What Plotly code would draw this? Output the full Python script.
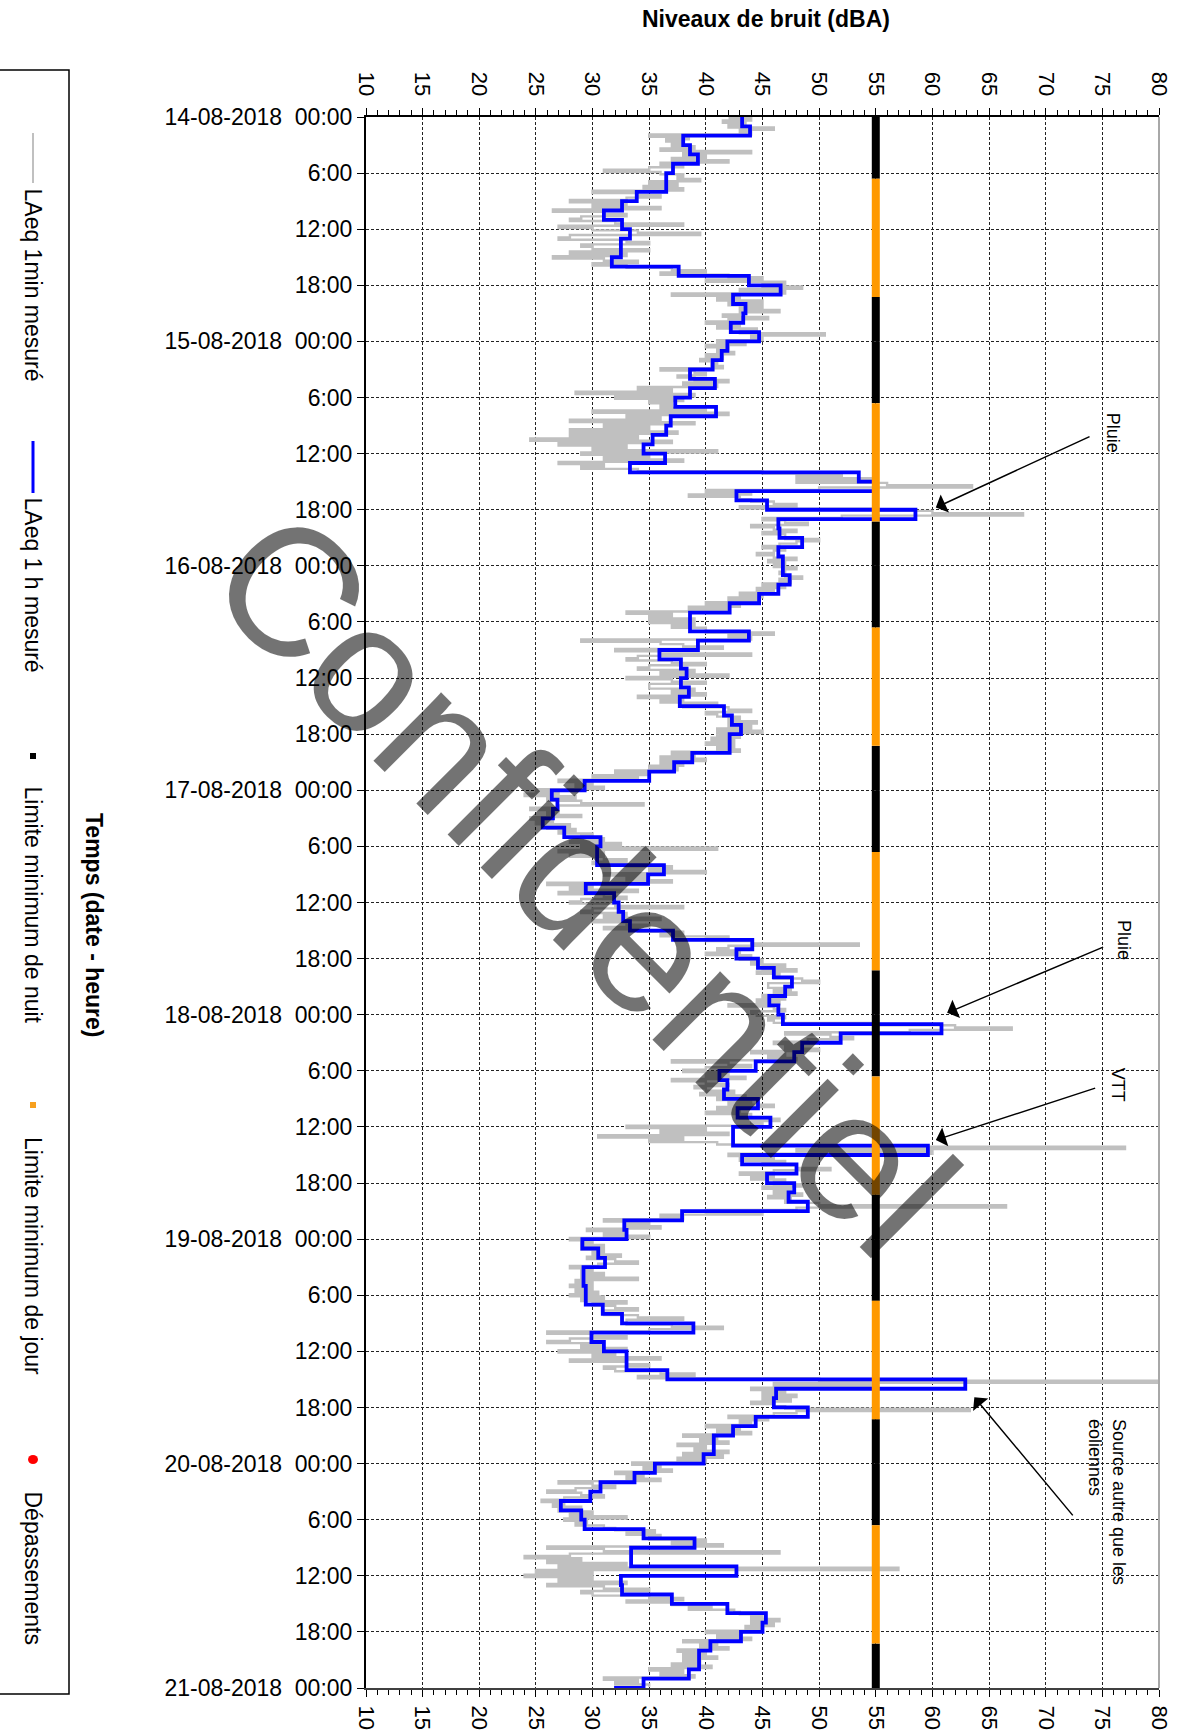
import numpy as np
import pandas as pd
import plotly.graph_objects as go

# ---------------- data ----------------
START = "2018-08-14 00:00"

# LAeq 1 h (dBA), one value per hour, per day
LAEQ_1H_14 = [43.2, 43.9, 38.0, 38.6, 39.3, 37.1, 36.5, 36.5, 33.9, 32.6, 31.0, 32.6,
              33.3, 32.5, 32.5, 31.7, 37.6, 43.8, 46.6, 42.4, 43.5, 43.3, 42.2, 44.7]
LAEQ_1H_15 = [41.9, 41.4, 40.6, 38.6, 40.8, 38.6, 37.3, 40.9, 36.9, 36.5, 35.3, 34.5,
              36.4, 33.3, 53.5, 55.0, 42.7, 45.4, 58.5, 46.4, 46.5, 48.5, 46.4, 46.8]
LAEQ_1H_16 = [46.8, 47.4, 46.4, 44.7, 42.1, 38.6, 38.6, 43.8, 39.3, 35.9, 37.8, 38.3,
              37.8, 38.5, 37.7, 41.6, 42.3, 43.1, 42.1, 42.1, 38.8, 37.2, 35.0, 29.3]
LAEQ_1H_17 = [26.4, 26.9, 26.5, 25.6, 27.5, 30.7, 30.4, 30.4, 36.3, 34.9, 29.4, 31.9,
              32.3, 32.7, 33.3, 37.1, 44.1, 42.7, 44.6, 46.0, 47.6, 47.0, 45.6, 46.4]
LAEQ_1H_18 = [46.8, 60.8, 51.9, 48.5, 47.8, 44.4, 41.2, 41.9, 41.6, 44.6, 42.8, 45.7,
              42.4, 42.4, 59.6, 43.2, 48.0, 45.4, 47.8, 47.3, 49.0, 37.9, 32.8, 33.0]
LAEQ_1H_19 = [29.1, 30.5, 31.1, 29.2, 29.2, 29.4, 29.4, 30.9, 32.6, 38.9, 29.9, 31.0,
              33.0, 33.0, 36.6, 62.9, 46.2, 46.0, 49.0, 44.4, 42.4, 40.7, 40.7, 39.8]
LAEQ_1H_20 = [35.5, 33.7, 30.7, 29.8, 27.2, 29.0, 29.3, 34.5, 39.0, 33.4, 33.4, 42.7,
              32.5, 32.6, 37.0, 41.9, 45.3, 45.0, 43.1, 40.4, 39.4, 39.4, 38.5, 34.5]
LAEQ_1H_END = [31.9]

# LAeq 1 min (dBA), read as 4 values per hour (every 15 min)
GRAY_14 = [42, 44, 41.5, 43.5, 42, 46, 43, 44, 35, 38.5, 36.5, 38, 37, 39, 36, 44,
           38, 40, 37, 42, 36, 38, 35, 31, 36, 38, 37.5, 39.5, 35, 37.5, 34.5, 38,
           30, 34, 36, 33, 28, 33, 30, 36, 26.5, 31, 33, 29, 28, 32, 38, 27,
           30, 34, 39.5, 28, 27, 33, 35, 29, 30, 35, 28, 33, 26.5, 31, 34, 30,
           33, 37, 40, 36, 42, 45, 40, 47, 45, 48.5, 43, 47, 37, 43, 41, 45,
           42, 45, 43, 46.5, 43, 41.5, 45.5, 42, 40, 43, 41, 44.5, 43, 50.5, 44, 45]
GRAY_15 = [41, 43.5, 40, 42, 41, 42.5, 40, 41.5, 39.5, 41, 40.5, 41.5, 36, 39, 40, 37.5,
           39, 42, 38, 41, 34, 37, 28.5, 39, 32, 38, 35, 37, 36, 40, 30, 42,
           33, 36, 28, 39, 31, 35, 28, 37.5, 28, 34, 24.5, 37, 27, 33, 30, 41,
           29, 35, 31, 38, 27, 31, 29, 34, 45, 52, 48, 55, 48, 56, 63.5, 50,
           40, 44, 38.5, 43, 44, 46, 48, 43, 55, 60, 68, 52, 45, 47, 49, 44,
           46, 48, 45, 47, 47, 50, 48, 46.5, 45, 47, 46, 44.5, 46, 48, 45.5, 47]
GRAY_16 = [46, 48, 47, 46.5, 47, 48.5, 46.5, 47.5, 45, 47, 44.5, 46, 43, 45, 42, 44.5,
           40, 43, 38.5, 42, 33, 37, 35, 39, 35, 39, 37, 40, 40, 46, 42, 44,
           29, 36, 38, 41.5, 32, 36, 44, 34, 33, 37, 40, 35, 34, 39, 36, 42,
           33, 37, 40, 35, 35, 39, 37, 40, 34, 38, 36, 41, 38, 42, 44, 40,
           41, 43, 42, 44.5, 42, 44, 41, 45, 41, 43, 40.5, 42.5, 40, 42.5, 41, 43,
           37, 39, 36, 40, 36, 38, 35, 37.5, 32, 35, 30, 34, 27, 30, 28.5, 31]
GRAY_17 = [25, 27, 24, 28.5, 26, 29, 34.5, 27, 24.5, 27, 26, 29, 24.5, 26.5, 25, 28,
           26, 28.5, 27, 30, 29, 31, 28, 32.5, 29, 41, 27, 31, 28, 31, 33, 30,
           33, 37, 35, 40, 31, 35, 33, 37, 26, 30, 28, 34, 27, 31, 33, 29,
           28, 32, 38, 30, 29, 33, 31, 36, 30, 33, 35, 31, 34, 38, 36, 42,
           40, 44, 53.5, 42, 41, 43, 40, 44, 43, 45, 44, 47, 45, 48, 44.5, 46.5,
           46, 48.5, 50, 45.5, 45.5, 47.5, 46, 48, 45, 47, 44.5, 46.5, 42, 46, 47, 44]
GRAY_18 = [44.5, 47, 45.5, 46, 55, 62, 67, 58, 47, 51, 53, 49, 46, 48.5, 47, 50,
           44, 47, 45.5, 48, 37, 42, 44, 40, 38, 42, 40, 43.5, 37, 40, 42, 39,
           40, 42.5, 39.5, 43.5, 41, 44, 42, 46, 41, 43, 40, 44, 43, 46.5, 44, 45,
           33, 40, 36, 42, 30.5, 38, 35, 41, 50, 77, 48, 60, 42, 46, 43, 47,
           45, 48, 51, 46, 43, 46, 44, 47, 46, 48.5, 45, 47.5, 46, 48.5, 45.5, 47.5,
           47, 50, 66.5, 48, 40, 45, 36, 38, 31, 35, 33, 36, 29.5, 33, 31, 35]
GRAY_19 = [28, 30, 29, 31, 29, 31, 30, 32.5, 29.5, 32, 34, 30.5, 28, 30, 29, 31,
           29, 34, 28.5, 30, 28, 30, 28.5, 30.5, 28, 31, 29, 33, 30, 32, 34, 31,
           31, 34, 38, 33, 33, 37, 41.5, 35, 26, 30, 33, 28, 26, 31, 29, 33,
           27, 32, 30, 36, 28, 33, 35, 31, 32, 36, 39, 34, 50, 80, 46, 55,
           44, 47, 45, 48, 45, 47.5, 44, 46, 47, 63.3, 48, 46, 42, 45.5, 43, 44,
           40, 43, 41, 44, 38, 41, 39.5, 42, 37.5, 40, 39, 42, 38, 41.5, 37.5, 40]
GRAY_20 = [33.5, 36, 34.5, 37, 32, 34.5, 33, 36, 27, 30, 32, 28.5, 26, 29, 31, 27.5,
           25.5, 27.5, 26.5, 29, 27, 30, 28, 33, 27.5, 29.5, 28.5, 31, 32, 35.5, 33, 36,
           35, 40, 37, 41.5, 26, 31, 46.5, 28, 24, 29, 26, 33, 27, 57, 25, 30,
           24, 30, 27, 33, 26, 31, 35, 29, 30, 35, 38, 33, 37, 40.5, 38.5, 42.5,
           43, 45, 44, 46.5, 44, 46, 43.5, 45, 40, 43, 41, 44, 38, 41, 39.5, 42,
           37.5, 40, 38, 41, 38, 39.5, 37, 40.5, 35, 38, 36, 39, 31, 34, 32, 35]

LIMIT_DBA = 55
DAY_START_H = 6.6     # orange (day) part of the limit line
DAY_END_H = 19.25
N_DAYS = 7

X_TICKS = [10, 15, 20, 25, 30, 35, 40, 45, 50, 55, 60, 65, 70, 75, 80]
Y_TICK_HOURS = list(range(0, 169, 6))
Y_TICK_LABELS = [
    "14-08-2018\u00a0\u00a000:00", "6:00", "12:00", "18:00",
    "15-08-2018\u00a0\u00a000:00", "6:00", "12:00", "18:00",
    "16-08-2018\u00a0\u00a000:00", "6:00", "12:00", "18:00",
    "17-08-2018\u00a0\u00a000:00", "6:00", "12:00", "18:00",
    "18-08-2018\u00a0\u00a000:00", "6:00", "12:00", "18:00",
    "19-08-2018\u00a0\u00a000:00", "6:00", "12:00", "18:00",
    "20-08-2018\u00a0\u00a000:00", "6:00", "12:00", "18:00",
    "21-08-2018\u00a0\u00a000:00",
]

LEGEND_ITEMS = ["LAeq 1min mesuré", "LAeq 1 h mesuré", "Limite minimum de nuit",
                "Limite minimum de jour", "Dépassements"]

# annotations: text, text (dBA, time), arrow tail (dBA, time), arrow head (dBA, time)
NOTES = [
    ("Pluie", 75.9, "2018-08-15 09:43", 74.0, "2018-08-15 10:06", 60.3, "2018-08-15 17:46"),
    ("Pluie", 76.9, "2018-08-17 16:00", 75.2, "2018-08-17 16:42", 61.3, "2018-08-17 23:48"),
    ("VTT", 76.4, "2018-08-18 07:30", 74.5, "2018-08-18 07:48", 60.3, "2018-08-18 13:24"),
    ("Source autre que les<br>éoliennes", 75.4, "2018-08-19 19:00", 72.5, "2018-08-20 05:42",
     63.7, "2018-08-19 16:54"),
]

# ---------------- geometry / style ----------------
W, H = 1180, 1735
PL, PR, PT, PB = 366, 1159, 117, 1688     # plot area in page pixels
FONT = "Liberation Sans, Arial, sans-serif"
NARROW = "Liberation Sans Narrow, Arial Narrow, Liberation Sans, sans-serif"


def pxx(p):
    return (p - PL) / (PR - PL)


def pxy(p):
    return (PB - p) / (PB - PT)


t0 = pd.Timestamp(START)
hourly = (LAEQ_1H_14 + LAEQ_1H_15 + LAEQ_1H_16 + LAEQ_1H_17 + LAEQ_1H_18
          + LAEQ_1H_19 + LAEQ_1H_20 + LAEQ_1H_END)
t_hourly = pd.date_range(t0, periods=len(hourly), freq="h")

gray = GRAY_14 + GRAY_15 + GRAY_16 + GRAY_17 + GRAY_18 + GRAY_19 + GRAY_20
t_gray = t0 + pd.to_timedelta(np.arange(len(gray)) * 15 + 7.5, unit="min")

t_end = t0 + pd.Timedelta(hours=24 * N_DAYS)

# limit line segments
night_x, night_y, day_x, day_y = [], [], [], []
for d in range(N_DAYS):
    base = t0 + pd.Timedelta(hours=24 * d)
    ds = base + pd.Timedelta(hours=DAY_START_H)
    de = base + pd.Timedelta(hours=DAY_END_H)
    ne = base + pd.Timedelta(hours=24)
    night_x += [LIMIT_DBA, LIMIT_DBA, None, LIMIT_DBA, LIMIT_DBA, None]
    night_y += [base, ds, None, de, ne, None]
    day_x += [LIMIT_DBA, LIMIT_DBA, None]
    day_y += [ds, de, None]

fig = go.Figure()
fig.add_trace(go.Scatter(x=gray, y=t_gray, mode="lines", line_shape="hv",
                         line=dict(color="#C0C0C0", width=2.4), name=LEGEND_ITEMS[0]))
fig.add_trace(go.Scatter(x=hourly, y=t_hourly, mode="lines", line_shape="vh",
                         line=dict(color="#0000FF", width=3.8), name=LEGEND_ITEMS[1]))
fig.add_trace(go.Scatter(x=night_x, y=night_y, mode="lines",
                         line=dict(color="#000000", width=8), name=LEGEND_ITEMS[2]))
fig.add_trace(go.Scatter(x=day_x, y=day_y, mode="lines",
                         line=dict(color="#FF9900", width=8), name=LEGEND_ITEMS[3]))
# dummy trace so the top axis is drawn
fig.add_trace(go.Scatter(x=[X_TICKS[0], X_TICKS[-1]], y=[t0, t0], xaxis="x2",
                         mode="none", hoverinfo="skip", showlegend=False))

grid = dict(showgrid=True, gridcolor="#222222", gridwidth=1, griddash="3px,2px")
xcommon = dict(range=[X_TICKS[0], X_TICKS[-1]], tickvals=X_TICKS, tickangle=90,
               ticks="outside", ticklen=7, tickwidth=1.2, tickcolor="black",
               minor=dict(dtick=1, ticks="outside", ticklen=5, tickcolor="black",
                          showgrid=False),
               tickfont=dict(family=FONT, size=22, color="black"),
               ticklabelstandoff=4, zeroline=False, showline=True, linewidth=2,
               automargin=False)

fig.update_layout(
    width=W, height=H,
    margin=dict(l=PL, r=W - PR, t=PT, b=H - PB, pad=0, autoexpand=False),
    paper_bgcolor="white", plot_bgcolor="white",
    showlegend=False,
    font=dict(family=FONT, color="black"),
    xaxis=dict(side="bottom", linecolor="#404040", **grid, **xcommon),
    xaxis2=dict(side="top", overlaying="x", matches="x", linecolor="black",
                showgrid=False, **xcommon),
    yaxis=dict(type="date", range=[t_end, t0],
               tickvals=[t0 + pd.Timedelta(hours=h) for h in Y_TICK_HOURS],
               ticktext=Y_TICK_LABELS, ticks="outside", ticklen=7, tickwidth=1.2,
               tickcolor="black", ticklabelstandoff=0, automargin=False,
               tickfont=dict(family=FONT, size=23, color="black"),
               showline=True, linecolor="black", linewidth=2, zeroline=False, **grid),
)

shapes = []
# right border of the plot
shapes.append(dict(type="line", xref="paper", yref="paper", x0=1, x1=1, y0=0, y1=1,
                   line=dict(color="#A8A8A8", width=2)))
# legend frame
shapes.append(dict(type="rect", xref="paper", yref="paper",
                   x0=pxx(-6), x1=pxx(69), y0=pxy(1694), y1=pxy(70),
                   line=dict(color="black", width=1.5), fillcolor="rgba(0,0,0,0)"))
# legend symbols
LEG_X = 33
shapes.append(dict(type="line", xref="paper", yref="paper", x0=pxx(LEG_X), x1=pxx(LEG_X),
                   y0=pxy(183), y1=pxy(133), line=dict(color="#C0C0C0", width=2)))
shapes.append(dict(type="line", xref="paper", yref="paper", x0=pxx(LEG_X), x1=pxx(LEG_X),
                   y0=pxy(493), y1=pxy(441), line=dict(color="#0000FF", width=3)))
shapes.append(dict(type="rect", xref="paper", yref="paper", x0=pxx(LEG_X - 3), x1=pxx(LEG_X + 3),
                   y0=pxy(759), y1=pxy(753), line=dict(width=0), fillcolor="black"))
shapes.append(dict(type="rect", xref="paper", yref="paper", x0=pxx(LEG_X - 3), x1=pxx(LEG_X + 3),
                   y0=pxy(1108), y1=pxy(1102), line=dict(width=0), fillcolor="#F7A01E"))
shapes.append(dict(type="circle", xref="paper", yref="paper", x0=pxx(LEG_X - 5), x1=pxx(LEG_X + 5),
                   y0=pxy(1464), y1=pxy(1455), line=dict(width=0), fillcolor="#FF0000"))
fig.update_layout(shapes=shapes)

ann = []
ann.append(dict(text="<b>Niveaux de bruit (dBA)</b>", xref="paper", yref="paper",
                x=pxx(766), y=pxy(19), showarrow=False, xanchor="center", yanchor="middle",
                font=dict(family=FONT, size=23, color="black")))
ann.append(dict(text="<b>Temps (date - heure)</b>", xref="paper", yref="paper",
                x=pxx(94), y=pxy(925), showarrow=False, textangle=90,
                xanchor="center", yanchor="middle",
                font=dict(family=FONT, size=23, color="black")))
LEG_TEXT_TOP = [186, 495, 784, 1135, 1489]
for label, top in zip(LEGEND_ITEMS, LEG_TEXT_TOP):
    ann.append(dict(text=label, xref="paper", yref="paper", x=pxx(LEG_X), y=pxy(top),
                    showarrow=False, textangle=90, xanchor="center", yanchor="top",
                    font=dict(family=FONT, size=23, color="black")))

for text, tx, tt, ax_, at, hx, ht in NOTES:
    ann.append(dict(text="", x=hx, y=ht, xref="x", yref="y", ax=ax_, ay=at,
                    axref="x", ayref="y", showarrow=True, arrowhead=1, arrowsize=2.2,
                    arrowwidth=1.5, arrowcolor="black", standoff=0, startstandoff=0))
    ann.append(dict(text=text, x=tx, y=tt, xref="x", yref="y", showarrow=False,
                    textangle=90, xanchor="center",
                    yanchor="top" if "<br>" in text else "middle", align="left",
                    font=dict(family=NARROW, size=18, color="black")))

# watermark
ann.append(dict(text="Confidentiel", xref="paper", yref="paper", x=pxx(584), y=pxy(882),
                showarrow=False, textangle=45, xanchor="center", yanchor="middle",
                font=dict(family=FONT, size=182, color="rgba(0,0,0,0.55)")))
fig.update_layout(annotations=ann)

# page without the default body margin so the figure sits at the window origin
fig.write_html("out.html", config={"displayModeBar": False},
               post_script="document.body.style.margin='0';")
